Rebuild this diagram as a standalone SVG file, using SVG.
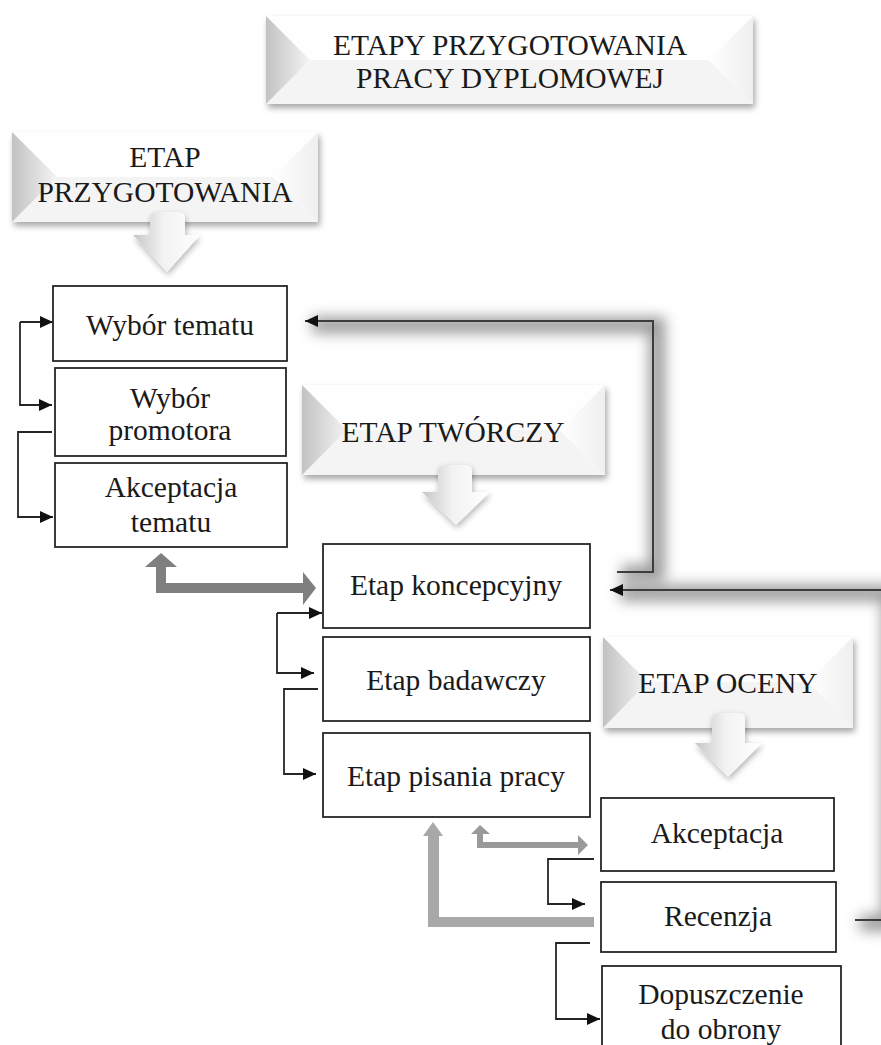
<svg xmlns="http://www.w3.org/2000/svg" width="881" height="1045" viewBox="0 0 881 1045">
<defs>
<style>
.t{font-family:'Liberation Serif','DejaVu Serif','Noto Serif',serif;font-size:29.5px;fill:#1a1a1a;text-anchor:middle}
.box{fill:#fff;stroke:#262626;stroke-width:1.8}
.con{fill:none;stroke:#262626;stroke-width:1.8}
.fb{fill:none;stroke:#3c3c3c;stroke-width:2}
.glow{fill:none;stroke:#000;stroke-opacity:.4;stroke-width:16;filter:url(#blur)}
.bbase{fill:#fff;filter:url(#sh)}
.bl{fill:url(#gL)}
.br{fill:url(#gR)}
.bb{fill:#f4f4f4}
.bt{fill:#fefefe}
.darr{fill:url(#gA);filter:url(#sh2)}
</style>
<linearGradient id="gL" x1="0" y1="0" x2="1" y2="0"><stop offset="0" stop-color="#c2c2c2"/><stop offset="1" stop-color="#f4f4f4"/></linearGradient>
<linearGradient id="gR" x1="0" y1="0" x2="1" y2="0"><stop offset="0" stop-color="#ffffff"/><stop offset="1" stop-color="#efefef"/></linearGradient>
<linearGradient id="gA" x1="0" y1="0" x2="1" y2="0"><stop offset="0" stop-color="#c6c6c6"/><stop offset="0.45" stop-color="#f2f2f2"/><stop offset="1" stop-color="#ffffff"/></linearGradient>
<filter id="sh" x="-10%" y="-20%" width="125%" height="150%"><feGaussianBlur in="SourceAlpha" stdDeviation="3"/><feOffset dx="2" dy="4"/><feComponentTransfer><feFuncA type="linear" slope="0.35"/></feComponentTransfer><feMerge><feMergeNode/><feMergeNode in="SourceGraphic"/></feMerge></filter>
<filter id="sh2" x="-30%" y="-30%" width="160%" height="170%"><feGaussianBlur in="SourceAlpha" stdDeviation="3"/><feOffset dx="1" dy="3"/><feComponentTransfer><feFuncA type="linear" slope="0.3"/></feComponentTransfer><feMerge><feMergeNode/><feMergeNode in="SourceGraphic"/></feMerge></filter>
<filter id="blur" filterUnits="userSpaceOnUse" x="0" y="0" width="900" height="1045"><feGaussianBlur stdDeviation="7"/></filter>
<marker id="ah" markerUnits="userSpaceOnUse" markerWidth="14" markerHeight="12" refX="13" refY="6" orient="auto"><path d="M0,0 L13,6 L0,12 z" fill="#111"/></marker>
</defs>
<rect width="881" height="1045" fill="#fff"/>

<g id="connectors">
<path class="glow" d="M622,573 H657 V325 H312"/>
<path class="glow" d="M860,923 H890 V593 H620"/>
<path class="fb" d="M617,572 H653 V321 H305" marker-end="url(#ah)"/>
<path class="fb" d="M855,920 H892 V590 H610" marker-end="url(#ah)"/>
<path class="con" d="M20,322 H53" marker-end="url(#ah)"/>
<path class="con" d="M20,322 V405 H52" marker-end="url(#ah)"/>
<path class="con" d="M52,432 H18 V517 H53" marker-end="url(#ah)"/>
<path class="con" d="M277,613 H322" marker-end="url(#ah)"/>
<path class="con" d="M277,613 V673 H314" marker-end="url(#ah)"/>
<path class="con" d="M318,689 H284 V774 H316" marker-end="url(#ah)"/>
<path class="con" d="M594,859 H548 V904 H585" marker-end="url(#ah)"/>
<path class="con" d="M590,943 H556 V1019 H600" marker-end="url(#ah)"/>
<polygon fill="#7f7f7f" points="161,553 177,567 166,567 166,583 303,583 303,572 316,588 303,605 303,593 156,593 156,567 145,567"/>
<polygon fill="#9a9a9a" points="480,825 490,834 483,834 483,842 578,842 578,835 588,845 578,855 578,848 477,848 477,834 471,834"/>
<polygon fill="#a8a8a8" points="433,822 443,836 439,836 439,917 594,917 594,927 428,927 428,836 423,836"/>
</g>

<g id="title">
<rect class="bbase" x="266" y="16" width="487" height="88"/>
<polygon class="bt" points="266,16 753,16 709,60 310,60"/>
<polygon class="bb" points="266,104 753,104 709,60 310,60"/>
<polygon class="bl" points="266,16 310,60 266,104"/>
<polygon class="br" points="753,16 709,60 753,104"/>
<text class="t" x="510" y="55">ETAPY PRZYGOTOWANIA</text>
<text class="t" x="510" y="88">PRACY DYPLOMOWEJ</text>
</g>

<g id="etap-przygotowania">
<rect class="bbase" x="12" y="132" width="306" height="90"/>
<polygon class="bt" points="12,132 318,132 273,177 57,177"/>
<polygon class="bb" points="12,222 318,222 273,177 57,177"/>
<polygon class="bl" points="12,132 57,177 12,222"/>
<polygon class="br" points="318,132 273,177 318,222"/>
<text class="t" x="165" y="167">ETAP</text>
<text class="t" x="165" y="202">PRZYGOTOWANIA</text>
<path class="darr" d="M150,218 Q150,212 156,212 H179 Q185,212 185,218 V235 H200 L167,272 L133,235 H150 Z"/>
</g>

<g id="wybor-tematu">
<rect class="box" x="53" y="286" width="234" height="75"/>
<text class="t" x="170" y="335">Wybór tematu</text>
</g>

<g id="wybor-promotora">
<rect class="box" x="55" y="368" width="231" height="88"/>
<text class="t" x="170" y="408">Wybór</text>
<text class="t" x="170" y="440">promotora</text>
</g>

<g id="akceptacja-tematu">
<rect class="box" x="55" y="463" width="232" height="84"/>
<text class="t" x="171" y="497">Akceptacja</text>
<text class="t" x="171" y="532">tematu</text>
</g>

<g id="etap-tworczy">
<rect class="bbase" x="302" y="385" width="303" height="90"/>
<polygon class="bt" points="302,385 605,385 560,430 347,430"/>
<polygon class="bb" points="302,475 605,475 560,430 347,430"/>
<polygon class="bl" points="302,385 347,430 302,475"/>
<polygon class="br" points="605,385 560,430 605,475"/>
<text class="t" x="453" y="442">ETAP TWÓRCZY</text>
<path class="darr" d="M438,471 Q438,465 444,465 H466 Q472,465 472,471 V492 H490 L456,525 L422,492 H438 Z"/>
</g>

<g id="etap-koncepcyjny">
<rect class="box" x="323" y="544" width="267" height="84"/>
<text class="t" x="456" y="595">Etap koncepcyjny</text>
</g>

<g id="etap-badawczy">
<rect class="box" x="323" y="637" width="267" height="84"/>
<text class="t" x="456" y="690">Etap badawczy</text>
</g>

<g id="etap-pisania">
<rect class="box" x="323" y="733" width="267" height="84"/>
<text class="t" x="456" y="786">Etap pisania pracy</text>
</g>

<g id="etap-oceny">
<rect class="bbase" x="603" y="637" width="250" height="91"/>
<polygon class="bt" points="603,637 853,637 808,682 648,682"/>
<polygon class="bb" points="603,728 853,728 808,682 648,682"/>
<polygon class="bl" points="603,637 648,682 603,728"/>
<polygon class="br" points="853,637 808,682 853,728"/>
<text class="t" x="728" y="693">ETAP OCENY</text>
<path class="darr" d="M712,719 Q712,713 718,713 H739 Q745,713 745,719 V743 H762 L728,777 L695,743 H712 Z"/>
</g>

<g id="akceptacja">
<rect class="box" x="601" y="798" width="233" height="73"/>
<text class="t" x="717" y="843">Akceptacja</text>
</g>

<g id="recenzja">
<rect class="box" x="601" y="882" width="235" height="70"/>
<text class="t" x="718" y="926">Recenzja</text>
</g>

<g id="dopuszczenie">
<rect class="box" x="602" y="966" width="239" height="100"/>
<text class="t" x="721" y="1004">Dopuszczenie</text>
<text class="t" x="721" y="1039">do obrony</text>
</g>
</svg>
